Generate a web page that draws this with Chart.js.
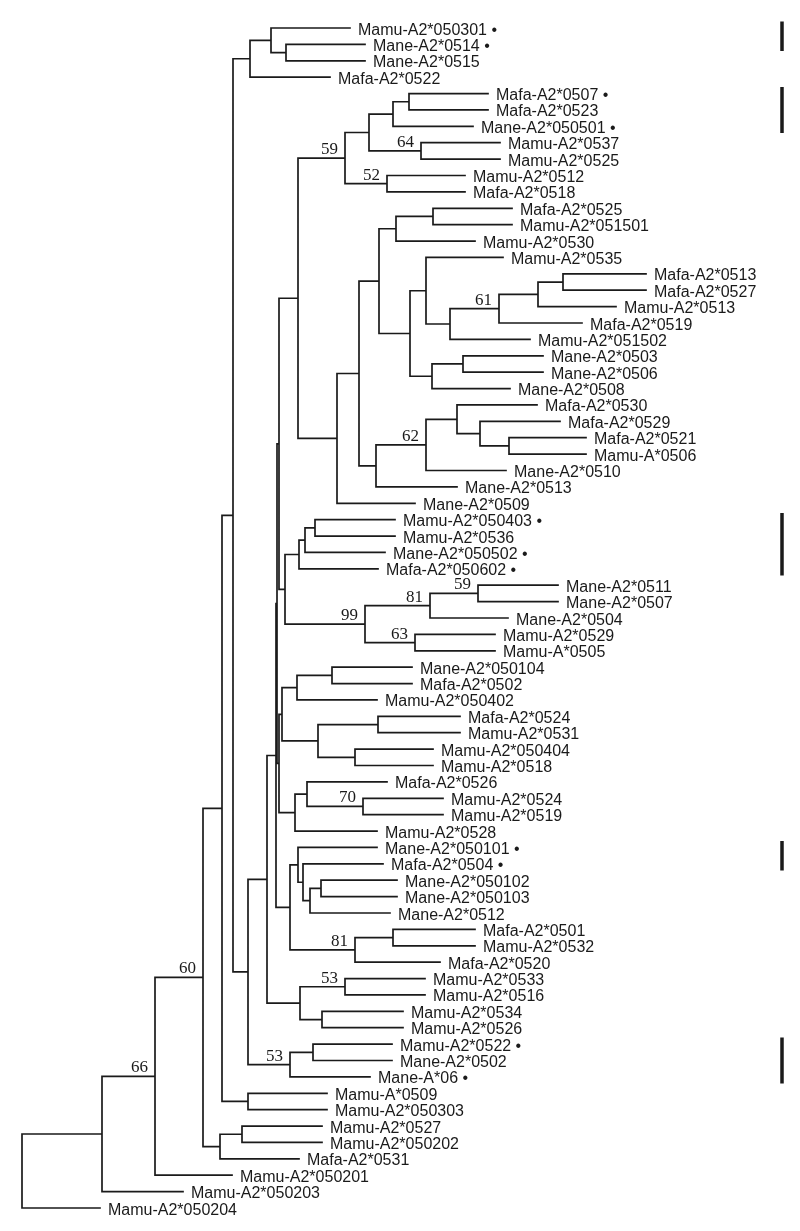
<!DOCTYPE html>
<html>
<head>
<meta charset="utf-8">
<script src="https://cdn.jsdelivr.net/npm/chart.js@4.4.0/dist/chart.umd.min.js"></script>
<style>
  html, body { margin: 0; padding: 0; background: #fff; }
  #wrap { position: relative; width: 800px; height: 1231px; }
</style>
</head>
<body>
<div id="wrap"><canvas id="tree"></canvas></div>
<script>
// Leaf names, top to bottom
const leafNames = [
  'Mamu-A2*050301', 'Mane-A2*0514', 'Mane-A2*0515', 'Mafa-A2*0522',
  'Mafa-A2*0507', 'Mafa-A2*0523', 'Mane-A2*050501', 'Mamu-A2*0537',
  'Mamu-A2*0525', 'Mamu-A2*0512', 'Mafa-A2*0518', 'Mafa-A2*0525',
  'Mamu-A2*051501', 'Mamu-A2*0530', 'Mamu-A2*0535', 'Mafa-A2*0513',
  'Mafa-A2*0527', 'Mamu-A2*0513', 'Mafa-A2*0519', 'Mamu-A2*051502',
  'Mane-A2*0503', 'Mane-A2*0506', 'Mane-A2*0508', 'Mafa-A2*0530',
  'Mafa-A2*0529', 'Mafa-A2*0521', 'Mamu-A*0506', 'Mane-A2*0510',
  'Mane-A2*0513', 'Mane-A2*0509', 'Mamu-A2*050403', 'Mamu-A2*0536',
  'Mane-A2*050502', 'Mafa-A2*050602', 'Mane-A2*0511', 'Mane-A2*0507',
  'Mane-A2*0504', 'Mamu-A2*0529', 'Mamu-A*0505', 'Mane-A2*050104',
  'Mafa-A2*0502', 'Mamu-A2*050402', 'Mafa-A2*0524', 'Mamu-A2*0531',
  'Mamu-A2*050404', 'Mamu-A2*0518', 'Mafa-A2*0526', 'Mamu-A2*0524',
  'Mamu-A2*0519', 'Mamu-A2*0528', 'Mane-A2*050101', 'Mafa-A2*0504',
  'Mane-A2*050102', 'Mane-A2*050103', 'Mane-A2*0512', 'Mafa-A2*0501',
  'Mamu-A2*0532', 'Mafa-A2*0520', 'Mamu-A2*0533', 'Mamu-A2*0516',
  'Mamu-A2*0534', 'Mamu-A2*0526', 'Mamu-A2*0522', 'Mane-A2*0502',
  'Mane-A*06', 'Mamu-A*0509', 'Mamu-A2*050303', 'Mamu-A2*0527',
  'Mamu-A2*050202', 'Mafa-A2*0531', 'Mamu-A2*050201', 'Mamu-A2*050203',
  'Mamu-A2*050204'
];

// distance from root to each tip
const leafDepth = [
  0.328, 0.343, 0.343, 0.308, 0.466, 0.466, 0.451, 0.478, 0.478, 0.443,
  0.443, 0.490, 0.490, 0.453, 0.481, 0.624, 0.624, 0.594, 0.560, 0.508,
  0.521, 0.521, 0.488, 0.515, 0.538, 0.564, 0.564, 0.484, 0.435, 0.393,
  0.373, 0.373, 0.363, 0.356, 0.536, 0.536, 0.486, 0.473, 0.473, 0.390,
  0.390, 0.355, 0.438, 0.438, 0.411, 0.411, 0.365, 0.421, 0.421, 0.355,
  0.355, 0.361, 0.375, 0.375, 0.368, 0.453, 0.453, 0.418, 0.403, 0.403,
  0.381, 0.381, 0.370, 0.370, 0.348, 0.305, 0.305, 0.300, 0.300, 0.277,
  0.210, 0.161, 0.078
];

// leaves marked with a dot
const markedLeaves = [0, 1, 4, 6, 30, 32, 33, 50, 51, 62, 64];

// internal nodes: [first leaf, last leaf, depth, bootstrap]
const clades = [
  [0, 72, 0.000], [0, 71, 0.080], [0, 70, 0.133, 66], [0, 69, 0.181, 60],
  [0, 66, 0.200], [0, 64, 0.211], [0, 3, 0.228], [0, 2, 0.249], [1, 2, 0.264],
  [4, 64, 0.226], [4, 61, 0.245], [4, 57, 0.254], [4, 49, 0.255], [4, 38, 0.257],
  [4, 29, 0.276], [4, 10, 0.323, 59], [4, 8, 0.347], [4, 6, 0.371], [4, 5, 0.387],
  [7, 8, 0.399, 64], [9, 10, 0.365, 52],
  [11, 29, 0.315], [11, 28, 0.337], [11, 22, 0.357], [11, 13, 0.374], [11, 12, 0.411],
  [14, 22, 0.388], [14, 19, 0.404], [15, 19, 0.428], [15, 18, 0.477, 61],
  [15, 17, 0.516], [15, 16, 0.541], [20, 22, 0.410], [20, 21, 0.441],
  [23, 28, 0.354], [23, 27, 0.404, 62], [23, 26, 0.435], [24, 26, 0.458], [25, 26, 0.487],
  [30, 38, 0.263], [30, 33, 0.277], [30, 32, 0.283], [30, 31, 0.293],
  [34, 38, 0.343, 99], [34, 36, 0.408, 81], [34, 35, 0.456, 59], [37, 38, 0.393, 63],
  [39, 49, 0.257], [39, 45, 0.260], [39, 41, 0.275], [39, 40, 0.310],
  [42, 45, 0.296], [42, 43, 0.356], [44, 45, 0.333],
  [46, 49, 0.273], [46, 48, 0.285], [47, 48, 0.341, 70],
  [50, 57, 0.268], [50, 54, 0.276], [51, 54, 0.281], [52, 54, 0.288], [52, 53, 0.299],
  [55, 57, 0.333, 81], [55, 56, 0.371],
  [58, 61, 0.278], [58, 59, 0.323, 53], [60, 61, 0.300],
  [62, 64, 0.268, 53], [62, 63, 0.291],
  [65, 66, 0.226], [67, 69, 0.198], [67, 68, 0.220]
];

// vertical bars on the right, by leaf range
const groupBars = [[0, 1], [4, 6], [30, 33], [50, 51], [62, 64]];

// ---- build tree from the clade ranges ----
const nodes = clades.map(c => ({ from: c[0], to: c[1], depth: c[2], support: c[3], children: [] }))
  .sort((a, b) => (a.to - a.from) - (b.to - b.from));
const leaves = leafNames.map((name, i) => ({ leaf: true, y: i, depth: leafDepth[i], children: [] }));

leaves.forEach((lf, i) => {
  const p = nodes.find(n => n.from <= i && i <= n.to);
  lf.parent = p; p.children.push(lf);
});
nodes.forEach(n => {
  const p = nodes.find(m => m !== n && m.from <= n.from && n.to <= m.to && (m.to - m.from) > (n.to - n.from));
  if (p) { n.parent = p; p.children.push(n); }
});
nodes.forEach(n => {
  const ys = n.children.map(c => c.y);
  n.y = (Math.min(...ys) + Math.max(...ys)) / 2;
});

const branchPts = [];
const gap = { x: null, y: null };
[...leaves, ...nodes].forEach(n => {
  if (n.parent) branchPts.push({ x: n.parent.depth, y: n.y }, { x: n.depth, y: n.y }, gap);
  if (!n.leaf) {
    const ys = n.children.map(c => c.y);
    branchPts.push({ x: n.depth, y: Math.min(...ys) }, { x: n.depth, y: Math.max(...ys) }, gap);
  }
});

const barPts = [];
groupBars.forEach(([a, b]) => barPts.push({ x: 0.760, y: a - 0.4 }, { x: 0.760, y: b + 0.4 }, gap));

// names, dots and bootstrap values
const labelPlugin = {
  id: 'treeLabels',
  afterDatasetsDraw(chart) {
    const { ctx, scales: { x, y } } = chart;
    ctx.save();
    ctx.fillStyle = '#1a1a1a';
    ctx.font = '16px "Liberation Sans", Arial, sans-serif';
    ctx.textAlign = 'left';
    ctx.textBaseline = 'alphabetic';
    leafNames.forEach((name, i) => {
      const txt = markedLeaves.includes(i) ? name + ' \u2022' : name;
      ctx.fillText(txt, x.getPixelForValue(leafDepth[i]) + 8, y.getPixelForValue(i) + 6.5);
    });
    ctx.font = '17px "Liberation Serif", "Times New Roman", serif';
    ctx.textAlign = 'right';
    nodes.forEach(n => {
      if (n.support) ctx.fillText(String(n.support), x.getPixelForValue(n.depth) - 7, y.getPixelForValue(n.y) - 4);
    });
    ctx.restore();
  }
};

new Chart(document.getElementById('tree'), {
  type: 'scatter',
  data: {
    datasets: [
      { data: branchPts, showLine: true, spanGaps: false, borderColor: '#1a1a1a', borderWidth: 1.7,
        borderCapStyle: 'square', pointRadius: 0, clip: false },
      { data: barPts, showLine: true, spanGaps: false, borderColor: '#1a1a1a', borderWidth: 3.5,
        pointRadius: 0, clip: false }
    ]
  },
  options: {
    responsive: true,
    maintainAspectRatio: false,
    animation: false,
    layout: { padding: { left: 22, right: 0, top: 28, bottom: 23 } },
    plugins: { legend: { display: false }, tooltip: { enabled: false } },
    scales: {
      x: { type: 'linear', min: 0, max: 0.778, display: false },
      y: { type: 'linear', min: 0, max: 72, reverse: true, display: false }
    }
  },
  plugins: [labelPlugin]
});
</script>
</body>
</html>
